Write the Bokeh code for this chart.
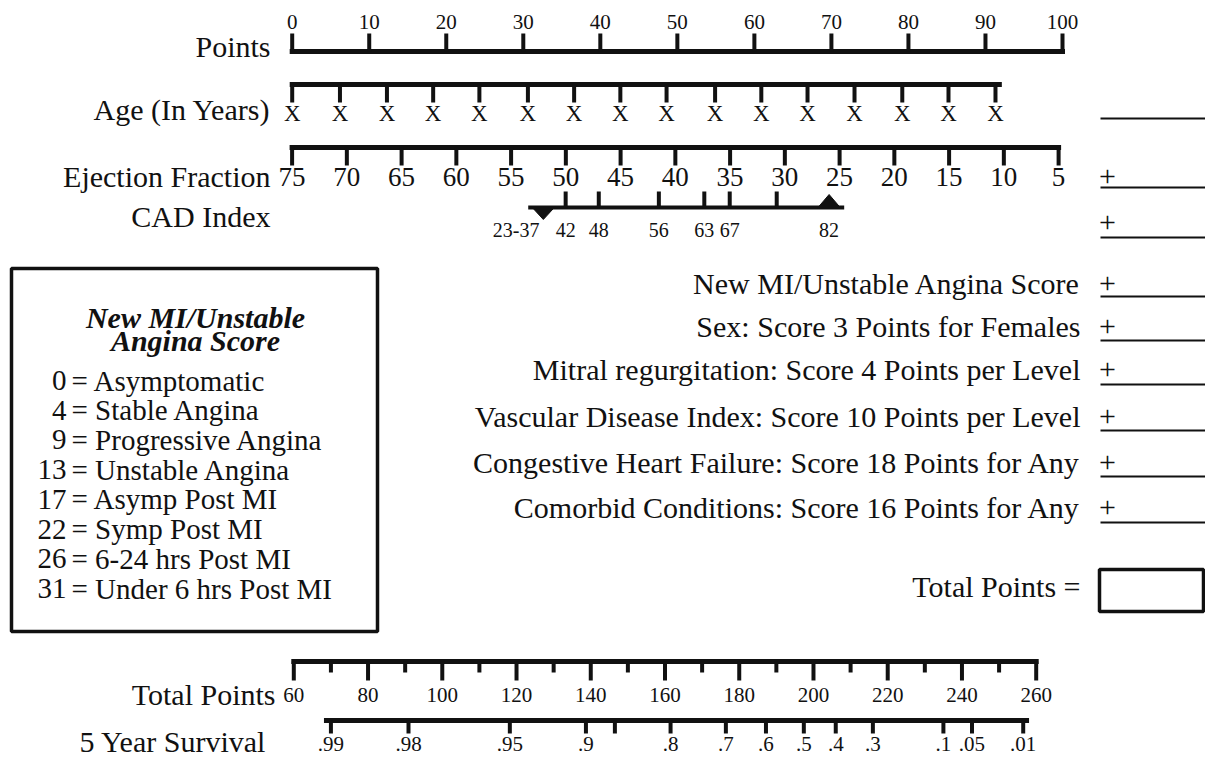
from bokeh.plotting import figure
from bokeh.models import Range1d
from bokeh.embed import file_html
from bokeh.resources import INLINE
from bokeh.core.properties import value

FONT = "Liberation Serif"

# ---------------- data ----------------
points_ticks = [0, 10, 20, 30, 40, 50, 60, 70, 80, 90, 100]

# Age scale: tick positions expressed on the Points scale (values shown as "X")
age_tick_pos = [0, 6.2, 12.3, 18.3, 24.3, 30.6, 36.6, 42.6, 48.6, 54.9, 60.9, 66.9, 73.0, 79.2, 85.2, 91.3]
age_labels = ["X"] * 16
age_span = [0, 91.8]

ef_ticks = [75, 70, 65, 60, 55, 50, 45, 40, 35, 30, 25, 20, 15, 10, 5]

# CAD index: positions on the Points scale
cad_pos = [32.6, 35.5, 39.8, 47.6, 53.5, 56.8, 62.9, 69.7]
cad_labels = ["23-37", "42", "48", "56", "63", "67", "", "82"]
cad_span = [30.9, 71.4]

tp_major = [60, 80, 100, 120, 140, 160, 180, 200, 220, 240, 260]
tp_minor = [70, 90, 110, 130, 150, 170, 190, 210, 230, 250]

# 5-year survival: positions on the Total Points scale
surv_pos = [70.0, 90.9, 118.2, 138.7, 146.5, 161.5, 176.4, 187.2, 197.4, 206.0, 216.0, 235.0, 242.7, 256.5]
surv_labels = [".99", ".98", ".95", ".9", "", ".8", ".7", ".6", ".5", ".4", ".3", ".1", ".05", ".01"]
surv_span = [68.8, 257.4]

legend_title = ["New MI/Unstable", "Angina Score"]
legend_scores = ["0", "4", "9", "13", "17", "22", "26", "31"]
legend_desc = ["Asymptomatic", "Stable Angina", "Progressive Angina", "Unstable Angina",
               "Asymp Post MI", "Symp Post MI", "6-24 hrs Post MI", "Under 6 hrs Post MI"]

extra_items = ["New MI/Unstable Angina Score",
               "Sex: Score 3 Points for Females",
               "Mitral regurgitation: Score 4 Points per Level",
               "Vascular Disease Index: Score 10 Points per Level",
               "Congestive Heart Failure: Score 18 Points for Any",
               "Comorbid Conditions: Score 16 Points for Any"]

# ---------------- layout ----------------
W, H = 1205, 758
X0, X1 = 0, W
Y0, Y1 = 0, H

# calibration of the scales (pixel of reference value, pixels per unit)
PTS_PX0, PTS_PPU = 291.7, 7.703      # Points 0
TP_PX0, TP_PPU = 293.3, 3.712        # Total points 60
EF_PX0, EF_PPU = 291.6, 10.95        # EF 75 (decreasing)

p = figure(width=W, height=H, x_range=Range1d(X0, X1), y_range=Range1d(Y1, Y0),
           output_backend="svg", toolbar_location=None, min_border=0,
           x_axis_location=None, y_axis_location=None)
p.grid.visible = False
p.outline_line_color = None
p.background_fill_color = "white"
p.extra_x_ranges = {
    "pts": Range1d((X0 - PTS_PX0) / PTS_PPU, (X1 - PTS_PX0) / PTS_PPU),
    "tp": Range1d(60 + (X0 - TP_PX0) / TP_PPU, 60 + (X1 - TP_PX0) / TP_PPU),
    "ef": Range1d(75 - (X0 - EF_PX0) / EF_PPU, 75 - (X1 - EF_PX0) / EF_PPU),
}

INK = "#111111"
AX_W = 5
TK_W = 4


def txt(x, y, t, size, align="center", rng="default", style="normal"):
    kw = {}
    if rng != "default":
        kw["x_range_name"] = rng
    p.text(x=x, y=y, text=t, text_font=value(FONT), text_font_size=size,
           text_align=align, text_baseline="middle", text_color=INK,
           text_font_style=style, **kw)


def hline(x0, x1, y, rng, w=AX_W):
    p.segment(x0=[x0], x1=[x1], y0=[y], y1=[y], line_width=w, line_color=INK,
              line_cap="square", x_range_name=rng)


def ticks(xs, ya, yb, rng, w=TK_W):
    n = len(xs)
    p.segment(x0=xs, x1=xs, y0=[ya] * n, y1=[yb] * n, line_width=w, line_color=INK,
              x_range_name=rng)


LBL = "30px"
LBL_X = 270

# Points
hline(points_ticks[0], points_ticks[-1], 51, "pts")
ticks(points_ticks, 33, 51, "pts")
txt(points_ticks, [21] * len(points_ticks), [str(v) for v in points_ticks], "21px", rng="pts")
txt([LBL_X], [46], ["Points"], LBL, align="right")

# Age
hline(age_span[0], age_span[1], 84, "pts")
ticks(age_tick_pos, 84, 102, "pts")
txt(age_tick_pos, [113] * len(age_tick_pos), age_labels, "23px", rng="pts")
txt([LBL_X], [109], ["Age (In Years)"], LBL, align="right")

# Ejection fraction
hline(ef_ticks[0], ef_ticks[-1], 147, "ef")
ticks(ef_ticks, 147, 165, "ef")
txt(ef_ticks, [176] * len(ef_ticks), [str(v) for v in ef_ticks], "27px", rng="ef")
txt([LBL_X], [176], ["Ejection Fraction"], LBL, align="right")

# CAD index
hline(cad_span[0], cad_span[1], 207, "pts", w=4)
ticks(cad_pos[1:-1], 191, 207, "pts")
tri_half = 1.55
p.patch(x=[cad_pos[0] - tri_half, cad_pos[0] + tri_half, cad_pos[0]], y=[206, 206, 219],
        fill_color=INK, line_color=INK, x_range_name="pts")
p.patch(x=[cad_pos[-1] - tri_half, cad_pos[-1] + tri_half, cad_pos[-1]], y=[208, 208, 194],
        fill_color=INK, line_color=INK, x_range_name="pts")
txt([cad_pos[0] - 0.5], [229], [cad_labels[0]], "20px", align="right", rng="pts")
txt(cad_pos[1:], [229] * (len(cad_pos) - 1), cad_labels[1:], "20px", rng="pts")
txt([LBL_X], [216], ["CAD Index"], LBL, align="right")

# right-hand tally column
PLUS_X = 1107
UL_X0, UL_X1 = 1100, X1
under_y = [118, 187, 237]
plus_y = [176, 222]
row_y = [283, 326, 369, 416, 462, 507]
row_under = [296, 340, 384, 430, 476, 522]
txt([1080] * len(extra_items), row_y, extra_items, "30px", align="right")
txt([PLUS_X] * (len(plus_y) + len(row_y)), plus_y + row_y,
    ["+"] * (len(plus_y) + len(row_y)), "30px")
uy = under_y + row_under
p.segment(x0=[UL_X0] * len(uy), x1=[UL_X1] * len(uy), y0=uy, y1=uy, line_width=2, line_color=INK)

txt([1080], [586], ["Total Points ="], "30px", align="right")
p.quad(left=[1099], right=[1203], top=[569], bottom=[611], fill_color=None,
       line_color=INK, line_width=3.5)

# legend box
p.quad(left=[11], right=[377], top=[268], bottom=[631], fill_color=None,
       line_color=INK, line_width=3.5)
txt([195, 195], [317, 340], legend_title, "30px", style="bold italic")
leg_y = [380, 409.7, 439.4, 469.1, 498.8, 528.5, 558.2, 588]
txt([66] * len(legend_scores), leg_y, legend_scores, "29px", align="right")
txt([71] * len(legend_desc), leg_y, ["= " + d for d in legend_desc], "29px", align="left")

# Total points
hline(tp_major[0], tp_major[-1], 661, "tp")
ticks(tp_major, 661, 680, "tp")
ticks(tp_minor, 661, 672, "tp")
txt(tp_major, [694] * len(tp_major), [str(v) for v in tp_major], "21px", rng="tp")
txt([275], [694], ["Total Points"], LBL, align="right")

# 5 year survival
hline(surv_span[0], surv_span[1], 720, "tp")
ticks(surv_pos, 720, 733, "tp")
txt(surv_pos, [743] * len(surv_pos), surv_labels, "21px", rng="tp")
txt([266], [741], ["5 Year Survival"], LBL, align="right")

open("out.html", "w").write(file_html(p, INLINE))
